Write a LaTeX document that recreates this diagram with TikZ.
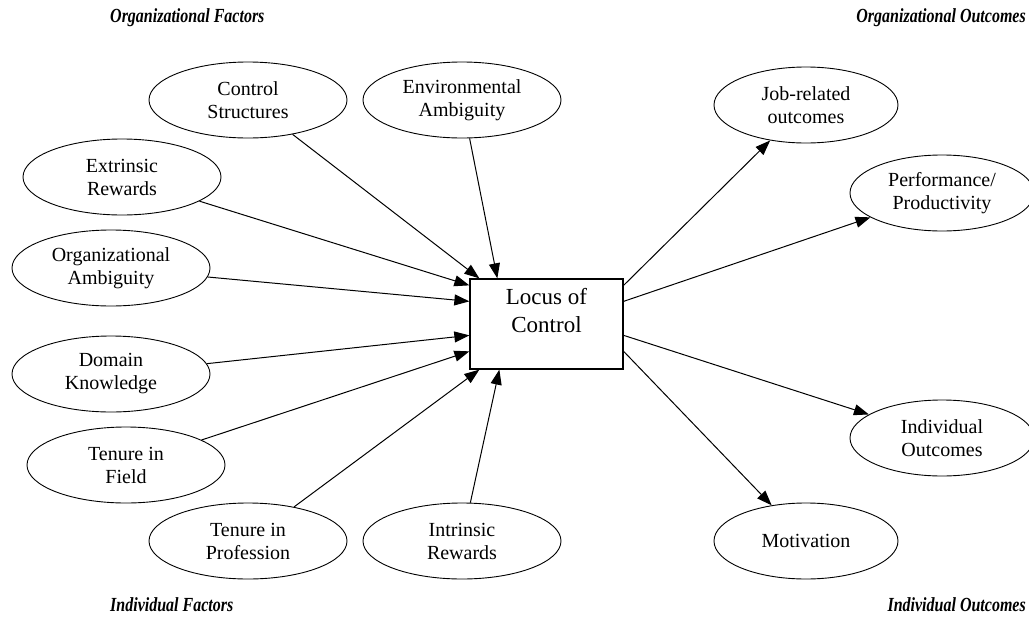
\documentclass[tikz,border=0pt]{standalone}
\usepackage{fontspec}
\usepackage{graphicx}
\setmainfont{Liberation Serif}
\usetikzlibrary{shapes.geometric,arrows.meta,calc}
\newcommand\hdrtxt[1]{\scalebox{0.8}[1]{#1}}
\begin{document}
\begin{tikzpicture}[x=1pt,y=-1pt,
  factor/.style={draw,ellipse,line width=0.9pt,minimum width=198pt,minimum height=76pt,inner sep=0pt,align=center,font=\fontsize{20}{23}\selectfont},
  outc/.style={factor,minimum width=184pt},
  hdr/.style={font=\fontsize{20}{22}\selectfont\bfseries\itshape,inner sep=0pt},
  conn/.style={line width=1pt,-{Triangle[length=15pt,width=11pt]}},
  locbox/.style={draw,line width=1.3pt,minimum width=153pt,minimum height=90pt,inner sep=0pt,align=center,font=\fontsize{23}{28}\selectfont}
]
\useasboundingbox (0,0) rectangle (1029,624);
% headers
\node[hdr,anchor=west] (h1) at (110,18) {\hdrtxt{Organizational Factors}};
\node[hdr,anchor=east] (h2) at (1026,18) {\hdrtxt{Organizational Outcomes}};
\node[hdr,anchor=west] (h3) at (110,605) {\hdrtxt{Individual Factors}};
\node[hdr,anchor=east] (h4) at (1026,605) {\hdrtxt{Individual Outcomes}};
% central box
\node[locbox] (loc) at (546.5,324) {Locus of\\Control\\\mbox{}};
% factors
\node[factor] (cs) at (248,100) {Control\\Structures};
\node[factor] (ea) at (462,100) {Environmental\\Ambiguity};
\node[factor] (er) at (122,177) {Extrinsic\\Rewards};
\node[factor] (oa) at (111,268) {Organizational\\Ambiguity};
\node[factor] (dk) at (111,374) {Domain\\Knowledge};
\node[factor] (tf) at (126,465) {Tenure in\\Field};
\node[factor] (tp) at (248,541) {Tenure in\\Profession};
\node[factor] (ir) at (462,541) {Intrinsic\\Rewards};
% outcomes
\node[outc] (jo) at (806,105) {Job-related\\outcomes};
\node[outc] (pp) at (942,193) {Performance/\\Productivity};
\node[outc] (io) at (942,438) {Individual\\Outcomes};
\node[outc] (mo) at (806,541) {Motivation};
% box ports
\coordinate (inCS) at ($(loc.north west)+(10,0)$);
\coordinate (inEA) at ($(loc.north west)+(28,0)$);
\coordinate (inER) at ($(loc.north west)+(0,7)$);
\coordinate (inOA) at ($(loc.north west)+(0,23)$);
\coordinate (inDK) at ($(loc.north west)+(0,57)$);
\coordinate (inTF) at ($(loc.north west)+(0,73)$);
\coordinate (inTP) at ($(loc.south west)+(10,0)$);
\coordinate (inIR) at ($(loc.south west)+(30,0)$);
\coordinate (oJO) at ($(loc.north east)+(0,7)$);
\coordinate (oPP) at ($(loc.north east)+(0,23)$);
\coordinate (oIO) at ($(loc.north east)+(0,57)$);
\coordinate (oMO) at ($(loc.north east)+(0,73)$);
% connectors
\draw[conn] (cs) -- (inCS);
\draw[conn] (ea) -- (inEA);
\draw[conn] (er) -- (inER);
\draw[conn] (oa) -- (inOA);
\draw[conn] (dk) -- (inDK);
\draw[conn] (tf) -- (inTF);
\draw[conn] (tp) -- (inTP);
\draw[conn] (ir) -- (inIR);
\draw[conn] (oJO) -- (jo);
\draw[conn] (oPP) -- (pp);
\draw[conn] (oIO) -- (io);
\draw[conn] (oMO) -- (mo);
\end{tikzpicture}
\end{document}
